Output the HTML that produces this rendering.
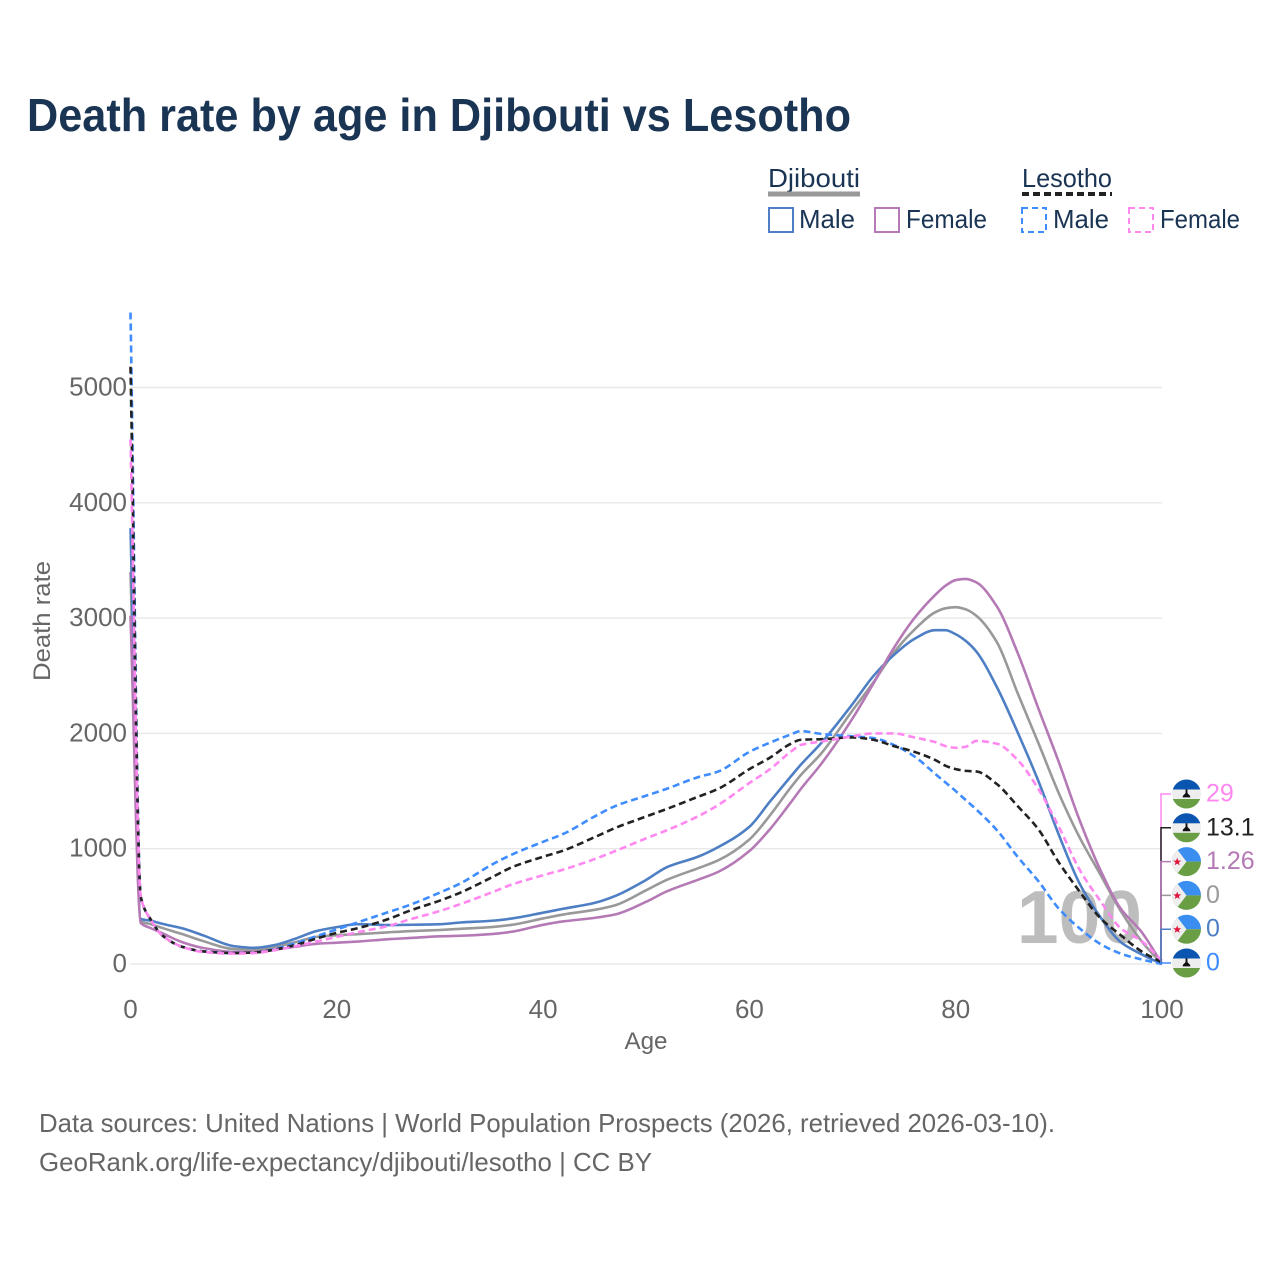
<!DOCTYPE html>
<html lang="en">
<head>
<meta charset="utf-8">
<title>Death rate by age in Djibouti vs Lesotho</title>
<style>
html,body{margin:0;padding:0;background:#fff;}
svg{display:block;font-family:"Liberation Sans",sans-serif;}
</style>
</head>
<body>
<svg id="chart" xmlns="http://www.w3.org/2000/svg" width="1280" height="1280" viewBox="0 0 1280 1280">
  <defs>
    <clipPath id="flag-clip"><circle cx="0" cy="0" r="14.5"/></clipPath>
    <g id="flag-lesotho" clip-path="url(#flag-clip)">
      <rect x="-15" y="-15" width="30" height="30" fill="#eeeeee"/>
      <rect x="-15" y="-15" width="30" height="10.5" fill="#0a55b0"/>
      <rect x="-15" y="5" width="30" height="10" fill="#6a9e45"/>
      <path d="M-3.8 3.4 C-4 1 -1.6 0.4 -1 -1 L-0.9 -4.6 L0.9 -4.6 L1 -1 C1.6 0.4 4 1 3.8 3.4 Z" fill="#111"/>
    </g>
    <g id="flag-djibouti" clip-path="url(#flag-clip)">
      <rect x="-15" y="-15" width="30" height="15" fill="#3a8ef0"/>
      <rect x="-15" y="0" width="30" height="15" fill="#6a9e45"/>
      <polygon points="-15,-15 -15,15 -11.5,15 0,0 -11.5,-15" fill="#eeeeee"/>
      <polygon points="-9.3,-3.8 -8.2,-1 -5.3,-1 -7.6,0.9 -6.8,3.6 -9.3,2 -11.8,3.6 -11,0.9 -13.3,-1 -10.4,-1" fill="#e0143c"/>
    </g>
  </defs>

  <text x="27" y="131" font-size="46" font-weight="700" fill="#1a3454" textLength="824" lengthAdjust="spacingAndGlyphs">Death rate by age in Djibouti vs Lesotho</text>

  <g id="legend" font-size="26" fill="#1a3454">
    <text x="768" y="187" textLength="92" lengthAdjust="spacingAndGlyphs">Djibouti</text>
    <line x1="768" y1="194" x2="860" y2="194" stroke="#999999" stroke-width="5"/>
    <text x="1022" y="187" textLength="90" lengthAdjust="spacingAndGlyphs">Lesotho</text>
    <line x1="1022" y1="194" x2="1112" y2="194" stroke="#222222" stroke-width="4" stroke-dasharray="7 4"/>
    <g>
      <rect x="769" y="208" width="24" height="24" fill="none" stroke="#4e7fc4" stroke-width="2"/>
      <text x="799" y="228" textLength="56" lengthAdjust="spacingAndGlyphs">Male</text>
    </g>
    <g>
      <rect x="875" y="208" width="24" height="24" fill="none" stroke="#b57ab5" stroke-width="2"/>
      <text x="906" y="228" textLength="81" lengthAdjust="spacingAndGlyphs">Female</text>
    </g>
    <g>
      <rect x="1022" y="208" width="24" height="24" fill="none" stroke="#3f8cff" stroke-width="2" stroke-dasharray="6 4"/>
      <text x="1053" y="228" textLength="56" lengthAdjust="spacingAndGlyphs">Male</text>
    </g>
    <g>
      <rect x="1129" y="208" width="24" height="24" fill="none" stroke="#ff88f0" stroke-width="2" stroke-dasharray="6 4"/>
      <text x="1160" y="228" textLength="80" lengthAdjust="spacingAndGlyphs">Female</text>
    </g>
  </g>

  <g id="grid"></g>
  <g id="yticks"></g>
  <g id="xticks"></g>

  <text transform="translate(50 621) rotate(-90)" text-anchor="middle" font-size="24.5" fill="#666666" textLength="120" lengthAdjust="spacingAndGlyphs">Death rate</text>
  <text x="646" y="1049" text-anchor="middle" font-size="24.5" fill="#666666" textLength="43" lengthAdjust="spacingAndGlyphs">Age</text>
  <text x="1142" y="943" text-anchor="end" font-size="75" font-weight="700" fill="#bdbdbd">100</text>

  <g id="series" fill="none" stroke-width="2.6" stroke-linejoin="round"></g>
  <g id="leaders" fill="none" stroke-width="1.5"></g>
  <g id="endlabels" font-size="25"></g>

  <g font-size="26" fill="#666666">
    <text x="39" y="1132" textLength="1016" lengthAdjust="spacingAndGlyphs">Data sources: United Nations | World Population Prospects (2026, retrieved 2026-03-10).</text>
    <text x="39" y="1171" textLength="613" lengthAdjust="spacingAndGlyphs">GeoRank.org/life-expectancy/djibouti/lesotho | CC BY</text>
  </g>
</svg>

<script>
const ages = [0,1,2,3,5,7,10,12,14,16,18,20,22,25,27,30,32,35,37,40,42,45,47,50,52,55,57,60,62,64,65,67,70,72,74,76,78,79,80,81,82,84,86,88,90,92,94,96,98,100];
const djiboutiTotal = [3400,370,345,315,260,200,130,125,150,190,235,250,258,275,285,295,305,320,340,395,430,470,510,640,730,830,900,1080,1290,1530,1640,1830,2200,2440,2700,2900,3050,3085,3095,3075,3020,2790,2350,1920,1480,1100,780,460,200,0];
const djiboutiMale = [3780,390,375,350,310,250,155,140,165,220,285,320,345,338,340,345,360,375,395,445,480,530,590,730,840,930,1015,1190,1410,1625,1730,1920,2255,2495,2680,2820,2895,2895,2860,2800,2710,2400,2010,1590,1120,700,410,190,85,0];
const djiboutiFemale = [3020,355,310,270,190,140,105,105,125,150,175,185,195,215,225,240,245,260,280,340,370,400,430,540,630,730,800,980,1170,1400,1520,1740,2130,2430,2740,3000,3200,3280,3330,3340,3310,3100,2700,2220,1750,1250,820,480,280,1.26];
const lesothoMale = [5650,580,380,255,150,110,95,100,130,180,240,300,360,450,510,620,700,860,950,1060,1130,1280,1370,1460,1520,1620,1670,1840,1920,1990,2020,1995,1975,1960,1900,1800,1650,1575,1500,1420,1340,1160,930,720,480,310,175,90,40,0];
const lesothoTotal = [5180,580,380,255,150,110,95,100,125,165,220,270,310,390,460,550,620,750,840,930,985,1100,1180,1280,1345,1450,1520,1690,1790,1910,1945,1950,1965,1945,1890,1840,1770,1720,1690,1675,1670,1560,1370,1170,880,630,400,250,110,13.1];
const lesothoFemale = [4550,580,380,255,150,105,90,95,120,155,195,235,275,330,385,460,520,620,690,770,820,910,980,1090,1160,1280,1380,1570,1690,1840,1900,1930,1975,2000,2000,1965,1925,1890,1875,1885,1935,1910,1770,1520,1190,820,550,310,200,29];
const yTickValues = [0,1000,2000,3000,4000,5000];
const xTickValues = [0,20,40,60,80,100];

const NS = 'http://www.w3.org/2000/svg';
const xScale = function (age) { return 130.5 + age * 10.315; };
const yScale = function (v) { return 964 - v * 0.1153; };

function svgEl(tag, parent) {
  const el = document.createElementNS(NS, tag);
  parent.appendChild(el);
  return el;
}

const gridGroup = document.getElementById('grid');
const yTickGroup = document.getElementById('yticks');
yTickValues.forEach(function (v) {
  const line = svgEl('line', gridGroup);
  
  
  line.setAttribute('x1', xScale(0));
  line.setAttribute('x2', xScale(100));
  line.setAttribute('y1', yScale(v));
  line.setAttribute('y2', yScale(v));
  line.setAttribute('stroke', '#e8e8e8');
  line.setAttribute('stroke-width', '1.4');
  const label = svgEl('text', yTickGroup);
  
  
  label.setAttribute('x', 127);
  label.setAttribute('y', yScale(v) + 8);
  label.setAttribute('text-anchor', 'end');
  label.setAttribute('font-size', '26');
  label.setAttribute('fill', '#666666');
  label.textContent = String(v);
});

const xTickGroup = document.getElementById('xticks');
xTickValues.forEach(function (v) {
  const label = svgEl('text', xTickGroup);
  
  
  label.setAttribute('x', xScale(v));
  label.setAttribute('y', 1018);
  label.setAttribute('text-anchor', 'middle');
  label.setAttribute('font-size', '26');
  label.setAttribute('fill', '#666666');
  label.textContent = String(v);
});

/* monotone cubic path through the data points */
function linePath(xs, ys) {
  const n = xs.length, d = [], m = [];
  for (let i = 0; i < n - 1; i++) d.push((ys[i + 1] - ys[i]) / (xs[i + 1] - xs[i]));
  m.push(d[0]);
  for (let i = 1; i < n - 1; i++) {
    if (d[i - 1] * d[i] <= 0) {
      m.push(0);
    } else {
      const h0 = xs[i] - xs[i - 1], h1 = xs[i + 1] - xs[i];
      m.push(3 * (h0 + h1) / ((2 * h1 + h0) / d[i - 1] + (h1 + 2 * h0) / d[i]));
    }
  }
  m.push(d[n - 2]);
  let p = 'M' + xs[0].toFixed(2) + ' ' + ys[0].toFixed(2);
  for (let i = 0; i < n - 1; i++) {
    const h = (xs[i + 1] - xs[i]) / 3;
    p += 'C' + (xs[i] + h).toFixed(2) + ' ' + (ys[i] + m[i] * h).toFixed(2) + ' ' +
         (xs[i + 1] - h).toFixed(2) + ' ' + (ys[i + 1] - m[i + 1] * h).toFixed(2) + ' ' +
         xs[i + 1].toFixed(2) + ' ' + ys[i + 1].toFixed(2);
  }
  return p;
}

const seriesList = [
  { key: 'djibouti-total', values: djiboutiTotal, color: '#999999', dash: '', flag: 'flag-djibouti', rank: 3 },
  { key: 'djibouti-male', values: djiboutiMale, color: '#4e7fc4', dash: '', flag: 'flag-djibouti', rank: 4 },
  { key: 'djibouti-female', values: djiboutiFemale, color: '#b57ab5', dash: '', flag: 'flag-djibouti', rank: 2 },
  { key: 'lesotho-male', values: lesothoMale, color: '#3f8cff', dash: '7 4', flag: 'flag-lesotho', rank: 5 },
  { key: 'lesotho-total', values: lesothoTotal, color: '#222222', dash: '7 4', flag: 'flag-lesotho', rank: 1 },
  { key: 'lesotho-female', values: lesothoFemale, color: '#ff88f0', dash: '7 4', flag: 'flag-lesotho', rank: 0 }
];

const seriesGroup = document.getElementById('series');
const xPixels = ages.map(xScale);
seriesList.forEach(function (s) {
  const path = svgEl('path', seriesGroup);
  
  
  path.setAttribute('d', linePath(xPixels, s.values.map(yScale)));
  path.setAttribute('stroke', s.color);
  if (s.dash) path.setAttribute('stroke-dasharray', s.dash);
});

const leaderGroup = document.getElementById('leaders');
const labelGroup = document.getElementById('endlabels');
const labelY = function (rank) { return 794 + rank * 33.8; };
const leaderOrder = [seriesList[0], seriesList[5], seriesList[4], seriesList[2], seriesList[1], seriesList[3]];
leaderOrder.forEach(function (s) {
  const last = s.values[s.values.length - 1];
  const ly = labelY(s.rank);
  const leader = svgEl('path', leaderGroup);
  
  
  leader.setAttribute('d', 'M' + xScale(100) + ' ' + yScale(last) + 'L1161 ' + yScale(last) + 'L1161 ' + ly + 'L1171 ' + ly);
  leader.setAttribute('stroke', s.color);

  const flag = svgEl('use', labelGroup);
  
  
  flag.setAttribute('href', '#' + s.flag);
  flag.setAttribute('transform', 'translate(1186.5 ' + ly + ')');

  const label = svgEl('text', labelGroup);
  
  
  label.setAttribute('x', 1206);
  label.setAttribute('y', ly + 7.5);
  label.setAttribute('fill', s.color);
  label.textContent = String(last);
});
</script>
</body>
</html>
